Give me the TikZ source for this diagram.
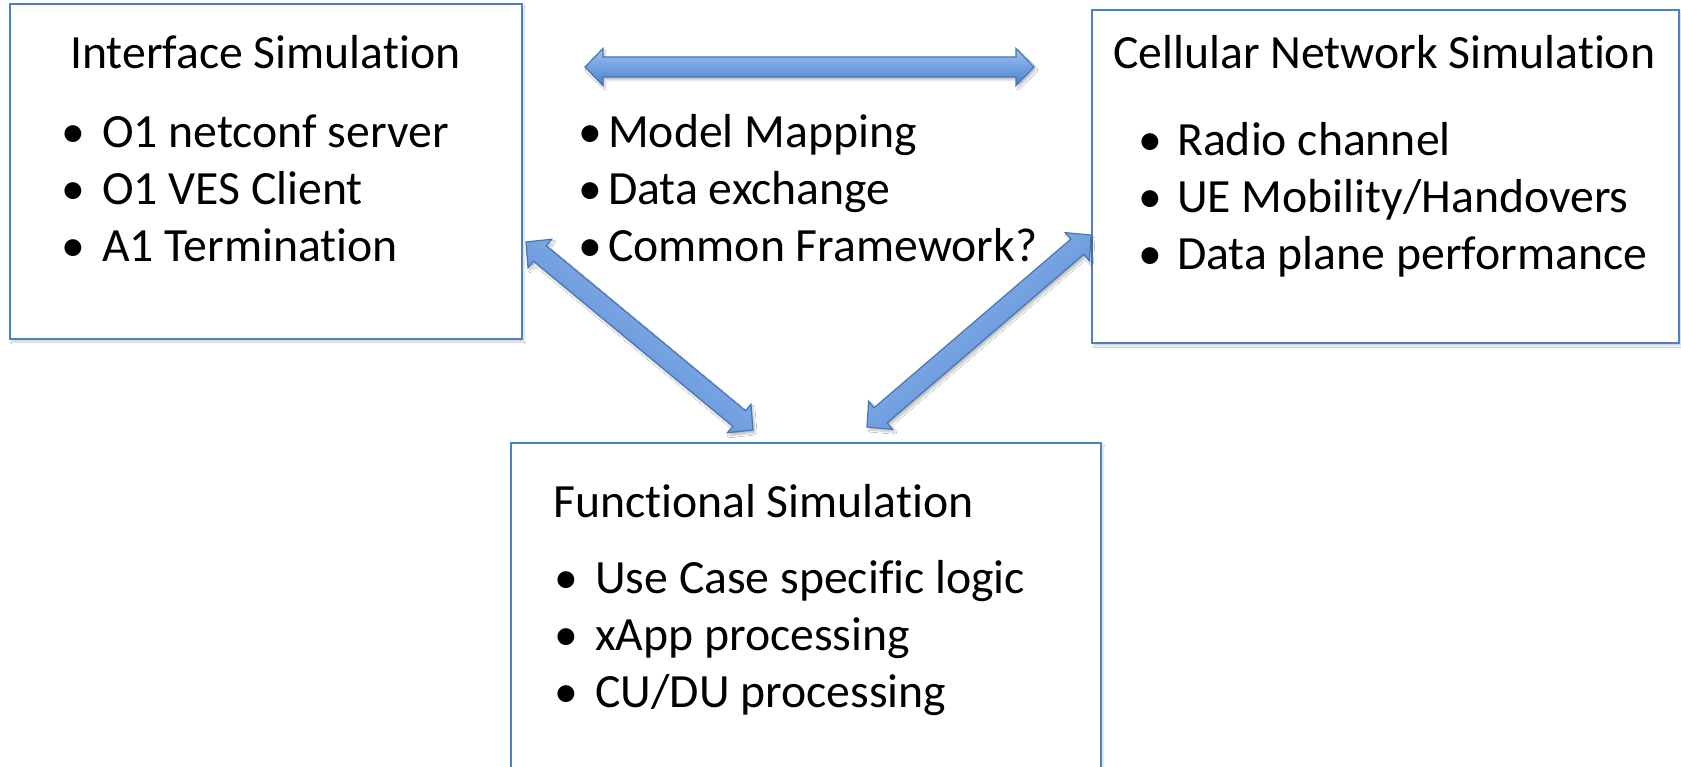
\documentclass[tikz,border=0pt]{standalone}
\usepackage{fontspec}
\setmainfont{Carlito}[Ligatures={NoCommon,NoContextual}]
\usetikzlibrary{calc,shadows.blur}
\definecolor{boxblue}{HTML}{4F81BD}
\definecolor{arrtop}{HTML}{9DC1F0}
\definecolor{arrbot}{HTML}{4A80CF}
\definecolor{arrline}{HTML}{4676B8}
\tikzset{
  simbox/.style={draw=boxblue, line width=2pt, fill=white, rectangle, inner sep=0pt,
    blur shadow={shadow xshift=2pt, shadow yshift=-3pt, shadow opacity=18, shadow blur steps=6}},
  txt/.style={anchor=base west, inner sep=0pt, font=\fontsize{47.7}{57}\selectfont},
  bul/.style={anchor=base, inner sep=0pt, font=\fontsize{47.7}{57}\selectfont},
  blockarrow/.style={draw=arrline, line width=1.2pt, top color=arrtop, bottom color=arrbot, line join=miter,
    blur shadow={shadow xshift=2pt, shadow yshift=-3pt, shadow opacity=25, shadow blur steps=6}}
}
\newcommand{\blockarr}[3]{%
  \path[blockarrow,#3] (#1)
    -- ($(#1)!18pt!(#2)!18.5pt!90:(#2)$)
    -- ($(#1)!18pt!(#2)!10pt!90:(#2)$)
    -- ($(#2)!18pt!(#1)!10pt!-90:(#1)$)
    -- ($(#2)!18pt!(#1)!18.5pt!-90:(#1)$)
    -- (#2)
    -- ($(#2)!18pt!(#1)!18.5pt!90:(#1)$)
    -- ($(#2)!18pt!(#1)!10pt!90:(#1)$)
    -- ($(#1)!18pt!(#2)!10pt!-90:(#2)$)
    -- ($(#1)!18pt!(#2)!18.5pt!-90:(#2)$)
    -- cycle;}
\begin{document}
\begin{tikzpicture}[x=1pt,y=-1pt]
\clip (0,0) rectangle (1681,767);
\fill[white] (0,0) rectangle (1681,767);

% boxes
\node[simbox, minimum width=512pt, minimum height=335pt] (iface) at (266,171.5) {};
\node[simbox, minimum width=587pt, minimum height=333pt] (cell) at (1385.5,176.3) {};
\node[simbox, minimum width=590pt, minimum height=357pt] (func) at (806,621.5) {};

% interface simulation
\node[txt] (t1) at (70,69) {Interface Simulation};
\node[bul] (b11) at (73,148) {•};
\node[txt] (i11) at (102,148) {O1 netconf server};
\node[bul] (b12) at (73,205) {•};
\node[txt] (i12) at (102,205) {O1 VES Client};
\node[bul] (b13) at (73,262) {•};
\node[txt] (i13) at (102,262) {A1 Termination};

% middle
\node[bul] (bm1) at (590,148) {•};
\node[txt] (m1) at (608,148) {Model Mapping};
\node[bul] (bm2) at (590,205) {•};
\node[txt] (m2) at (608,205) {Data exchange};
\node[bul] (bm3) at (590,262) {•};
\node[txt] (m3) at (608,262) {Common Framework?};

% cellular network simulation
\node[txt] (t2) at (1113,69) {Cellular Network Simulation};
\node[bul] (b21) at (1150,156) {•};
\node[txt] (i21) at (1177,156) {Radio channel};
\node[bul] (b22) at (1150,213) {•};
\node[txt] (i22) at (1177,213) {UE Mobility/Handovers};
\node[bul] (b23) at (1150,270) {•};
\node[txt] (i23) at (1177,270) {Data plane performance};

% functional simulation
\node[txt] (t3) at (553,517) {Functional Simulation};
\node[bul] (b31) at (566,593) {•};
\node[txt] (i31) at (595,593) {Use Case specific logic};
\node[bul] (b32) at (566,650) {•};
\node[txt] (i32) at (595,650) {xApp processing};
\node[bul] (b33) at (566,707) {•};
\node[txt] (i33) at (595,707) {CU/DU processing};

% arrow end points
\coordinate (h1) at (585,67);
\coordinate (h2) at (1034,67);
\coordinate (l1) at (526,242);
\coordinate (l2) at (753,430);
\coordinate (r1) at (867,427);
\coordinate (r2) at (1091,235);

\blockarr{h1}{h2}{shading angle=0}
\blockarr{l1}{l2}{shading angle=-39.6}
\blockarr{r1}{r2}{shading angle=40.6}
\end{tikzpicture}
\end{document}
